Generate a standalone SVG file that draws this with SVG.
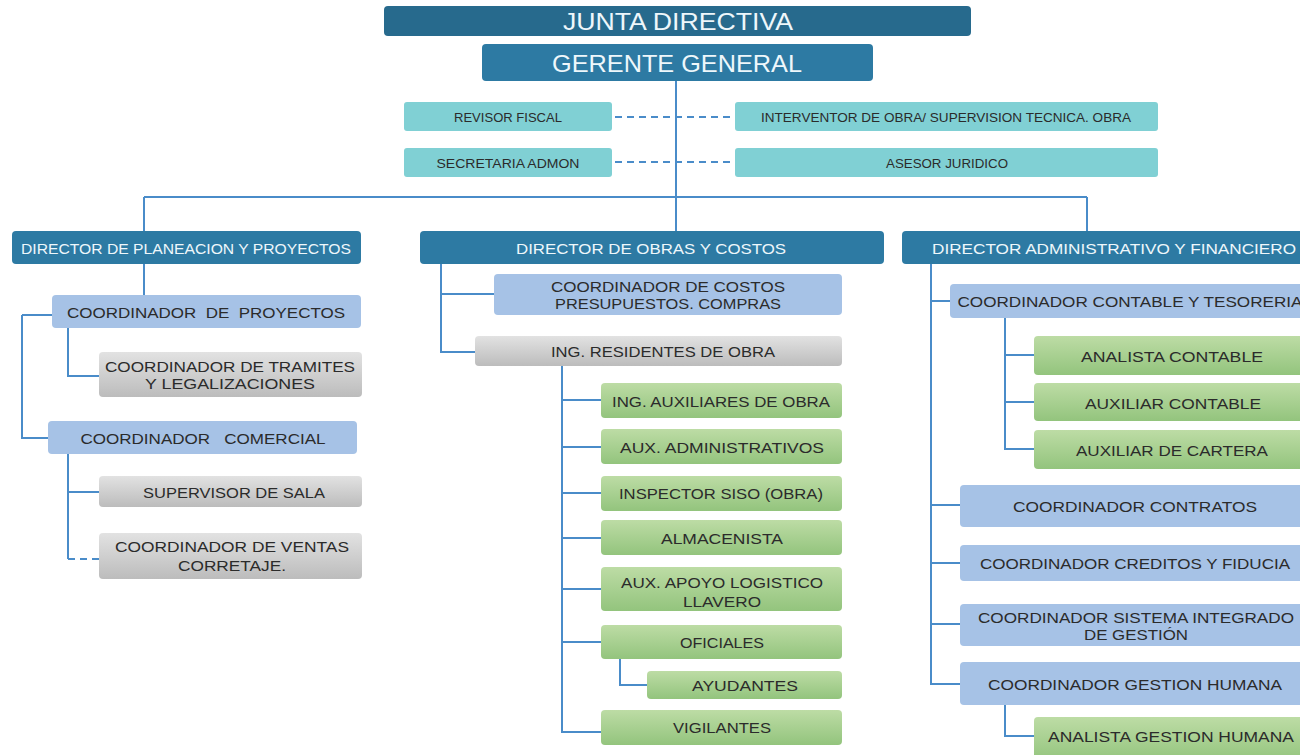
<svg xmlns="http://www.w3.org/2000/svg" width="1300" height="755" viewBox="0 0 1300 755">
<defs>
<linearGradient id="gGreen" x1="0" y1="0" x2="0" y2="1"><stop offset="0" stop-color="#bddca5"/><stop offset="1" stop-color="#93c47d"/></linearGradient>
<linearGradient id="gGray" x1="0" y1="0" x2="0" y2="1"><stop offset="0" stop-color="#e2e2e2"/><stop offset="1" stop-color="#bcbcbc"/></linearGradient>
</defs>
<style>
.top{fill:#276a8d}
.dir{fill:#2d7aa3}
.teal{fill:#80d0d4}
.blue{fill:#a6c2e6}
.gray{fill:url(#gGray)}
.green{fill:url(#gGreen)}
text{font-family:"Liberation Sans",Arial,sans-serif;text-anchor:middle;dominant-baseline:central}
.wt{fill:#eef7fb}
.dk{fill:#2b2b2b}
.ln{stroke:#4a8cc9;stroke-width:2;fill:none}
.dash{stroke:#4a8cc9;stroke-width:2;fill:none;stroke-dasharray:7,5}
</style>
<g id="connectors">
<path class="ln" d="M676 81V231M144 197H1087M144 197V231M1087 197V231"/>
<path class="dash" d="M615 117H733M615 162H733"/>
<path class="ln" d="M144 264V295M22 315H52M22 315V438H48M68 328V376H99M68 454V559M68 492H99"/>
<path class="dash" d="M68 559H99"/>
<path class="ln" d="M441 264V352H475M441 294H494M562 366V732H601M562 400H601M562 447H601M562 493H601M562 538H601M562 589H601M562 642H601M620 659V685H647"/>
<path class="ln" d="M931 264V684H960M931 301H950M931 505H960M931 563H960M931 624H960M1005 318V449H1034M1005 355H1034M1005 402H1034M1005 705V736H1034"/>
</g>
<g id="junta"><rect class="top" x="384" y="6" width="587" height="30" rx="4"/><text class="wt" x="678" y="21.5" font-size="24" textLength="230" lengthAdjust="spacingAndGlyphs">JUNTA DIRECTIVA</text></g>
<g id="gerente"><rect class="dir" x="482" y="44" width="391" height="37" rx="4"/><text class="wt" x="677" y="63" font-size="24" textLength="250" lengthAdjust="spacingAndGlyphs">GERENTE GENERAL</text></g>
<g id="revisor"><rect class="teal" x="404" y="102" width="208" height="29" rx="3"/><text class="dk" x="508" y="117" font-size="13" textLength="108" lengthAdjust="spacingAndGlyphs">REVISOR FISCAL</text></g>
<g id="interventor"><rect class="teal" x="735" y="102" width="423" height="29" rx="3"/><text class="dk" x="946" y="117" font-size="13" textLength="370" lengthAdjust="spacingAndGlyphs">INTERVENTOR DE OBRA/ SUPERVISION TECNICA. OBRA</text></g>
<g id="secretaria"><rect class="teal" x="404" y="148" width="208" height="29" rx="3"/><text class="dk" x="508" y="163" font-size="13" textLength="143" lengthAdjust="spacingAndGlyphs">SECRETARIA ADMON</text></g>
<g id="asesor"><rect class="teal" x="735" y="148" width="423" height="29" rx="3"/><text class="dk" x="947" y="163" font-size="13" textLength="122" lengthAdjust="spacingAndGlyphs">ASESOR JURIDICO</text></g>
<g id="dir-planeacion"><rect class="dir" x="12" y="231" width="349" height="33" rx="4"/><text class="wt" x="186" y="248" font-size="15.5" textLength="330" lengthAdjust="spacingAndGlyphs">DIRECTOR DE PLANEACION Y PROYECTOS</text></g>
<g id="dir-obras"><rect class="dir" x="420" y="231" width="464" height="33" rx="4"/><text class="wt" x="651" y="248" font-size="15.5" textLength="270" lengthAdjust="spacingAndGlyphs">DIRECTOR DE OBRAS Y COSTOS</text></g>
<g id="dir-admin"><rect class="dir" x="902" y="231" width="410" height="33" rx="4"/><text class="wt" x="1114" y="248" font-size="15.5" textLength="364" lengthAdjust="spacingAndGlyphs">DIRECTOR ADMINISTRATIVO Y FINANCIERO</text></g>
<g id="coord-proyectos"><rect class="blue" x="52" y="295" width="309" height="33" rx="4"/><text class="dk" x="206" y="312" font-size="15.5" textLength="278" lengthAdjust="spacingAndGlyphs" xml:space="preserve">COORDINADOR  DE  PROYECTOS</text></g>
<g id="coord-tramites"><rect class="gray" x="99" y="352" width="263" height="45" rx="4"/><text class="dk" x="230" y="366" font-size="15.5" textLength="250" lengthAdjust="spacingAndGlyphs">COORDINADOR DE TRAMITES</text><text class="dk" x="230" y="383" font-size="15.5" textLength="170" lengthAdjust="spacingAndGlyphs">Y LEGALIZACIONES</text></g>
<g id="coord-comercial"><rect class="blue" x="48" y="421" width="309" height="33" rx="4"/><text class="dk" x="203" y="438" font-size="15.5" textLength="245" lengthAdjust="spacingAndGlyphs" xml:space="preserve">COORDINADOR   COMERCIAL</text></g>
<g id="supervisor-sala"><rect class="gray" x="99" y="476" width="263" height="31" rx="4"/><text class="dk" x="234" y="492" font-size="15.5" textLength="182" lengthAdjust="spacingAndGlyphs">SUPERVISOR DE SALA</text></g>
<g id="coord-ventas"><rect class="gray" x="99" y="533" width="263" height="46" rx="4"/><text class="dk" x="232" y="546" font-size="15.5" textLength="234" lengthAdjust="spacingAndGlyphs">COORDINADOR DE VENTAS</text><text class="dk" x="232" y="565" font-size="15.5" textLength="108" lengthAdjust="spacingAndGlyphs">CORRETAJE.</text></g>
<g id="coord-costos"><rect class="blue" x="494" y="274" width="348" height="41" rx="4"/><text class="dk" x="668" y="286" font-size="15.5" textLength="234" lengthAdjust="spacingAndGlyphs">COORDINADOR DE COSTOS</text><text class="dk" x="668" y="303" font-size="15.5" textLength="226" lengthAdjust="spacingAndGlyphs">PRESUPUESTOS. COMPRAS</text></g>
<g id="ing-residentes"><rect class="gray" x="475" y="336" width="367" height="30" rx="4"/><text class="dk" x="663" y="351" font-size="15.5" textLength="224" lengthAdjust="spacingAndGlyphs">ING. RESIDENTES DE OBRA</text></g>
<g id="ing-auxiliares"><rect class="green" x="601" y="383" width="241" height="35" rx="4"/><text class="dk" x="721" y="401" font-size="15.5" textLength="218" lengthAdjust="spacingAndGlyphs">ING. AUXILIARES DE OBRA</text></g>
<g id="aux-admin"><rect class="green" x="601" y="429" width="241" height="35" rx="4"/><text class="dk" x="722" y="447" font-size="15.5" textLength="204" lengthAdjust="spacingAndGlyphs">AUX. ADMINISTRATIVOS</text></g>
<g id="inspector-siso"><rect class="green" x="601" y="476" width="241" height="35" rx="4"/><text class="dk" x="721" y="493" font-size="15.5" textLength="204" lengthAdjust="spacingAndGlyphs">INSPECTOR SISO (OBRA)</text></g>
<g id="almacenista"><rect class="green" x="601" y="520" width="241" height="35" rx="4"/><text class="dk" x="722" y="538" font-size="15.5" textLength="122" lengthAdjust="spacingAndGlyphs">ALMACENISTA</text></g>
<g id="aux-apoyo"><rect class="green" x="601" y="567" width="241" height="44" rx="4"/><text class="dk" x="722" y="582" font-size="15.5" textLength="202" lengthAdjust="spacingAndGlyphs">AUX. APOYO LOGISTICO</text><text class="dk" x="722" y="601" font-size="15.5" textLength="78" lengthAdjust="spacingAndGlyphs">LLAVERO</text></g>
<g id="oficiales"><rect class="green" x="601" y="625" width="241" height="34" rx="4"/><text class="dk" x="722" y="642" font-size="15.5" textLength="84" lengthAdjust="spacingAndGlyphs">OFICIALES</text></g>
<g id="ayudantes"><rect class="green" x="647" y="671" width="195" height="28" rx="4"/><text class="dk" x="745" y="685" font-size="15.5" textLength="106" lengthAdjust="spacingAndGlyphs">AYUDANTES</text></g>
<g id="vigilantes"><rect class="green" x="601" y="710" width="241" height="35" rx="4"/><text class="dk" x="722" y="727" font-size="15.5" textLength="98" lengthAdjust="spacingAndGlyphs">VIGILANTES</text></g>
<g id="coord-contable"><rect class="blue" x="950" y="284" width="362" height="34" rx="4"/><text class="dk" x="1130" y="301" font-size="15.5" textLength="345" lengthAdjust="spacingAndGlyphs">COORDINADOR CONTABLE Y TESORERIA</text></g>
<g id="analista-contable"><rect class="green" x="1034" y="336" width="278" height="39" rx="4"/><text class="dk" x="1172" y="356" font-size="15.5" textLength="182" lengthAdjust="spacingAndGlyphs">ANALISTA CONTABLE</text></g>
<g id="auxiliar-contable"><rect class="green" x="1034" y="383" width="278" height="38" rx="4"/><text class="dk" x="1173" y="403" font-size="15.5" textLength="176" lengthAdjust="spacingAndGlyphs">AUXILIAR CONTABLE</text></g>
<g id="auxiliar-cartera"><rect class="green" x="1034" y="430" width="278" height="39" rx="4"/><text class="dk" x="1172" y="450" font-size="15.5" textLength="192" lengthAdjust="spacingAndGlyphs">AUXILIAR DE CARTERA</text></g>
<g id="coord-contratos"><rect class="blue" x="960" y="485" width="352" height="42" rx="4"/><text class="dk" x="1135" y="506" font-size="15.5" textLength="244" lengthAdjust="spacingAndGlyphs">COORDINADOR CONTRATOS</text></g>
<g id="coord-creditos"><rect class="blue" x="960" y="545" width="352" height="36" rx="4"/><text class="dk" x="1135" y="563" font-size="15.5" textLength="310" lengthAdjust="spacingAndGlyphs">COORDINADOR CREDITOS Y FIDUCIA</text></g>
<g id="coord-sig"><rect class="blue" x="960" y="604" width="352" height="42" rx="4"/><text class="dk" x="1136" y="617" font-size="15.5" textLength="316" lengthAdjust="spacingAndGlyphs">COORDINADOR SISTEMA INTEGRADO</text><text class="dk" x="1136" y="634" font-size="15.5" textLength="104" lengthAdjust="spacingAndGlyphs">DE GESTIÓN</text></g>
<g id="coord-gh"><rect class="blue" x="960" y="662" width="352" height="43" rx="4"/><text class="dk" x="1135" y="684" font-size="15.5" textLength="294" lengthAdjust="spacingAndGlyphs">COORDINADOR GESTION HUMANA</text></g>
<g id="analista-gh"><rect class="green" x="1034" y="717" width="278" height="45" rx="4"/><text class="dk" x="1171" y="736" font-size="15.5" textLength="246" lengthAdjust="spacingAndGlyphs">ANALISTA GESTION HUMANA</text></g>
</svg>
